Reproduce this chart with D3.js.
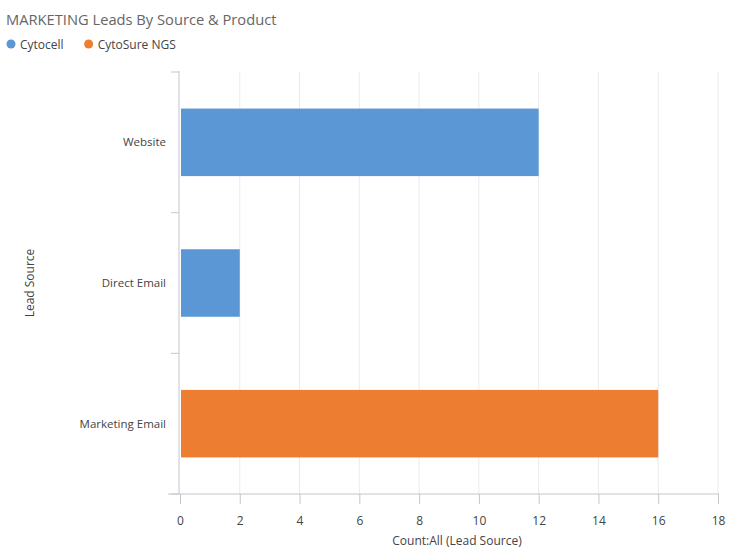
<!DOCTYPE html>
<html lang="en">
  <head>
    <meta charset="UTF-8" />
    <title>MARKETING Leads By Source &amp; Product</title>
    <script src="https://d3js.org/d3.v7.min.js"></script>
    <style>
      body { margin: 0; background: #fff; }
      text { font-family: 'Open Sans', 'Noto Sans', sans-serif; }
    </style>
  </head>
  <body>
    <svg width="740" height="560"></svg>

    <script>
      // Data
      const categories = ['Website', 'Direct Email', 'Marketing Email'];
      const seriesNames = ['Cytocell', 'CytoSure NGS'];
      const cytocell = [12, 2, 0];
      const cytosureNgs = [0, 0, 16];
      const xTicks = [0, 2, 4, 6, 8, 10, 12, 14, 16, 18];
      const colors = ['#5b97d5', '#ed7d31'];

      const rows = categories.map((c, i) => ({
        category: c,
        Cytocell: cytocell[i],
        'CytoSure NGS': cytosureNgs[i],
      }));
      const stacked = d3.stack().keys(seriesNames)(rows);

      const svg = d3.select('svg');
      const plotLeft = 180, plotRight = 718, plotTop = 72, plotBottom = 494;

      const x = d3.scaleLinear().domain([0, 18]).range([plotLeft, plotRight]);
      const y = d3
        .scaleBand()
        .domain(categories)
        .range([plotTop, plotBottom])
        .paddingInner(0.52)
        .paddingOuter(0.26);

      // Title
      svg.append('text')
        .attr('x', 6).attr('y', 25)
        .attr('font-size', 14.7)
        .attr('fill', '#666')
        .text('MARKETING Leads By Source & Product');

      // Legend
      const legend = svg.append('g');
      let lx = 11;
      seriesNames.forEach((name, i) => {
        legend.append('circle')
          .attr('cx', lx).attr('cy', 44).attr('r', 4.5)
          .attr('fill', colors[i]);
        const t = legend.append('text')
          .attr('x', lx + 9).attr('y', 48.5)
          .attr('font-size', 12)
          .attr('fill', '#444')
          .text(name);
        lx += t.node().getComputedTextLength() + 34;
      });

      // Grid lines
      svg.append('g')
        .selectAll('line')
        .data(xTicks.slice(1))
        .join('line')
        .attr('x1', (d) => x(d)).attr('x2', (d) => x(d))
        .attr('y1', plotTop).attr('y2', plotBottom)
        .attr('stroke', '#ebebeb');

      // Bars
      svg.append('g')
        .selectAll('g')
        .data(stacked)
        .join('g')
        .attr('fill', (d, i) => colors[i])
        .selectAll('rect')
        .data((d) => d.filter((s) => s[1] - s[0] > 0))
        .join('rect')
        .attr('x', (d) => x(d[0]) + 1)
        .attr('width', (d) => x(d[1]) - x(d[0]) - 1)
        .attr('y', (d) => y(d.data.category))
        .attr('height', y.bandwidth());

      // X axis
      const xAxis = svg.append('g')
        .attr('transform', `translate(0,${plotBottom})`)
        .call(d3.axisBottom(x).tickValues(xTicks).tickSize(10).tickPadding(12));
      xAxis.select('.domain').remove();
      xAxis.append('line')
        .attr('x1', 168).attr('x2', plotRight + 1)
        .attr('stroke', '#c3c6cc');
      xAxis.selectAll('.tick line').attr('stroke', '#c3c6cc');
      xAxis.selectAll('.tick text')
        .attr('font-size', 12).attr('fill', '#444')
        .style('font-family', "'Open Sans', sans-serif");

      // Y axis
      const bounds = categories.map((c) => y(c) - y.step() * 0.26).concat([plotBottom]);
      const yAxis = svg.append('g');
      yAxis.append('line')
        .attr('x1', plotLeft - 1).attr('x2', plotLeft - 1)
        .attr('y1', plotTop - 1).attr('y2', plotBottom)
        .attr('stroke', '#c3c6cc');
      yAxis.selectAll('.btick')
        .data(bounds)
        .join('line')
        .attr('class', 'btick')
        .attr('x1', plotLeft - 9).attr('x2', plotLeft - 1)
        .attr('y1', (d) => d).attr('y2', (d) => d)
        .attr('stroke', '#c3c6cc');
      yAxis.selectAll('.clabel')
        .data(categories)
        .join('text')
        .attr('class', 'clabel')
        .attr('x', 166)
        .attr('y', (d) => y(d) + y.bandwidth() / 2 + 4)
        .attr('text-anchor', 'end')
        .attr('font-size', 11.5)
        .attr('fill', '#444')
        .text((d) => d);

      // Axis titles
      svg.append('text')
        .attr('x', 457).attr('y', 545)
        .attr('text-anchor', 'middle')
        .attr('font-size', 12).attr('fill', '#444')
        .text('Count:All (Lead Source)');
      svg.append('text')
        .attr('transform', `translate(34,${(plotTop + plotBottom) / 2}) rotate(-90)`)
        .attr('text-anchor', 'middle')
        .attr('font-size', 12).attr('fill', '#444')
        .text('Lead Source');
    </script>
  </body>
</html>
